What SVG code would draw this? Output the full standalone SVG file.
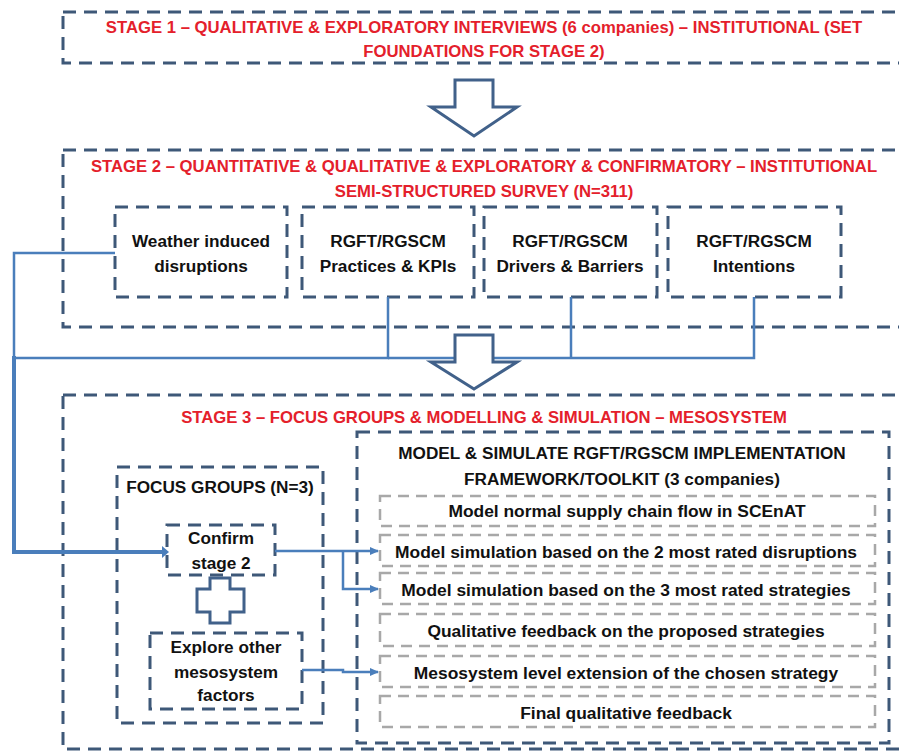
<svg xmlns="http://www.w3.org/2000/svg" width="899" height="752" viewBox="0 0 899 752">
<style>
.dk{fill:none;stroke:#3E5878;stroke-width:3;stroke-dasharray:13 8}
.gr{fill:none;stroke:#A8A8A8;stroke-width:2.5;stroke-dasharray:11 7}
.red{font-family:"Liberation Sans",Arial,sans-serif;font-weight:bold;font-size:16.7px;fill:#E4202B;text-anchor:middle}
.blk{font-family:"Liberation Sans",Arial,sans-serif;font-weight:bold;font-size:17.2px;fill:#111;text-anchor:middle}
.row{font-family:"Liberation Sans",Arial,sans-serif;font-weight:bold;font-size:17.4px;fill:#111;text-anchor:middle}
.con{fill:none;stroke:#4A7EBB;stroke-width:2.5}
.trunk{fill:none;stroke:#4A7EBB;stroke-width:4}
.big{fill:#fff;stroke:#41618A;stroke-width:3}
</style>
<defs>
<marker id="ah" markerWidth="10" markerHeight="10" refX="8" refY="5" orient="auto" markerUnits="userSpaceOnUse">
<path d="M0,1 L9,5 L0,9 Z" fill="#4A7EBB"/>
</marker>
</defs>
<rect width="899" height="752" fill="#fff"/>

<g id="stage1">
<rect class="dk" x="63" y="12" width="850" height="51"/>
<text class="red" x="484" y="32.5">STAGE 1 – QUALITATIVE &amp; EXPLORATORY INTERVIEWS (6 companies) – INSTITUTIONAL (SET</text>
<text class="red" x="484" y="57">FOUNDATIONS FOR STAGE 2)</text>
</g>

<g id="arrow1">
<path class="big" d="M455,80 H493 V107 H517 L474,136 L431,107 H455 Z"/>
</g>

<g id="stage2">
<rect class="dk" x="63" y="150" width="850" height="177"/>
<text class="red" x="484" y="172">STAGE 2 – QUANTITATIVE &amp; QUALITATIVE &amp; EXPLORATORY &amp; CONFIRMATORY – INSTITUTIONAL</text>
<text class="red" x="484" y="197">SEMI-STRUCTURED SURVEY (N=311)</text>
</g>

<g id="weather">
<rect class="dk" x="115" y="207" width="172" height="90"/>
<text class="blk" x="201" y="246.5">Weather induced</text>
<text class="blk" x="201" y="271.5">disruptions</text>
</g>
<g id="practices">
<rect class="dk" x="302" y="207" width="172" height="90"/>
<text class="blk" x="388" y="246.5">RGFT/RGSCM</text>
<text class="blk" x="388" y="271.5">Practices &amp; KPIs</text>
</g>
<g id="drivers">
<rect class="dk" x="484" y="207" width="173" height="90"/>
<text class="blk" x="570" y="246.5">RGFT/RGSCM</text>
<text class="blk" x="570" y="271.5">Drivers &amp; Barriers</text>
</g>
<g id="intentions">
<rect class="dk" x="668" y="207" width="173" height="90"/>
<text class="blk" x="754" y="246.5">RGFT/RGSCM</text>
<text class="blk" x="754" y="271.5">Intentions</text>
</g>

<g id="stage3">
<rect class="dk" x="63" y="395" width="850" height="354"/>
<text class="red" x="484" y="423">STAGE 3 – FOCUS GROUPS &amp; MODELLING &amp; SIMULATION – MESOSYSTEM</text>
</g>

<g id="focus">
<rect class="dk" x="117" y="467" width="206" height="256"/>
<text class="blk" x="220" y="493">FOCUS GROUPS (N=3)</text>
</g>
<g id="confirm">
<rect class="dk" x="167" y="525" width="108" height="50"/>
<text class="blk" x="221" y="544">Confirm</text>
<text class="blk" x="221" y="569">stage 2</text>
</g>
<g id="plus">
<path class="big" d="M210,578 H230 V589 H244 V612 H230 V623 H210 V612 H197 V589 H210 Z"/>
</g>
<g id="explore">
<rect class="dk" x="150" y="633" width="152" height="76"/>
<text class="blk" x="226" y="653">Explore other</text>
<text class="blk" x="226" y="678">mesosystem</text>
<text class="blk" x="226" y="701">factors</text>
</g>

<g id="model">
<rect class="dk" x="357" y="432" width="532" height="311"/>
<text class="blk" x="622" y="459">MODEL &amp; SIMULATE RGFT/RGSCM IMPLEMENTATION</text>
<text class="blk" x="622" y="485">FRAMEWORK/TOOLKIT (3 companies)</text>
</g>
<g id="row1"><rect class="gr" x="380" y="496" width="495" height="30"/><text class="row" x="627" y="517">Model normal supply chain flow in SCEnAT</text></g>
<g id="row2"><rect class="gr" x="380" y="535" width="495" height="31"/><text class="row" x="626" y="558">Model simulation based on the 2 most rated disruptions</text></g>
<g id="row3"><rect class="gr" x="380" y="573" width="495" height="31"/><text class="row" x="626" y="596">Model simulation based on the 3 most rated strategies</text></g>
<g id="row4"><rect class="gr" x="380" y="614" width="495" height="32"/><text class="row" x="626" y="637">Qualitative feedback on the proposed strategies</text></g>
<g id="row5"><rect class="gr" x="380" y="656" width="495" height="31"/><text class="row" x="626" y="678.5">Mesosystem level extension of the chosen strategy</text></g>
<g id="row6"><rect class="gr" x="380" y="696" width="495" height="31"/><text class="row" x="626" y="719">Final qualitative feedback</text></g>

<g id="connectors">
<path class="con" d="M115,253 H14 V358"/>
<path class="con" d="M388,297 V358 H14"/>
<path class="con" d="M571,297 V358"/>
<path class="con" d="M754,297 V358 H388"/>
<path class="trunk" d="M14,356 V552 H163"/>
<path d="M162,546 L169,552 L162,558 Z" fill="#4A7EBB"/>
<path class="con" d="M275,551 H378" marker-end="url(#ah)"/>
<path class="con" d="M343,551 V589 H378" marker-end="url(#ah)"/>
<path class="con" d="M302,670 H343 V672 H378" marker-end="url(#ah)"/>
</g>

<g id="arrow2">
<path class="big" d="M455,335 H493 V362 H517 L474,389 L431,362 H455 Z"/>
</g>
</svg>
